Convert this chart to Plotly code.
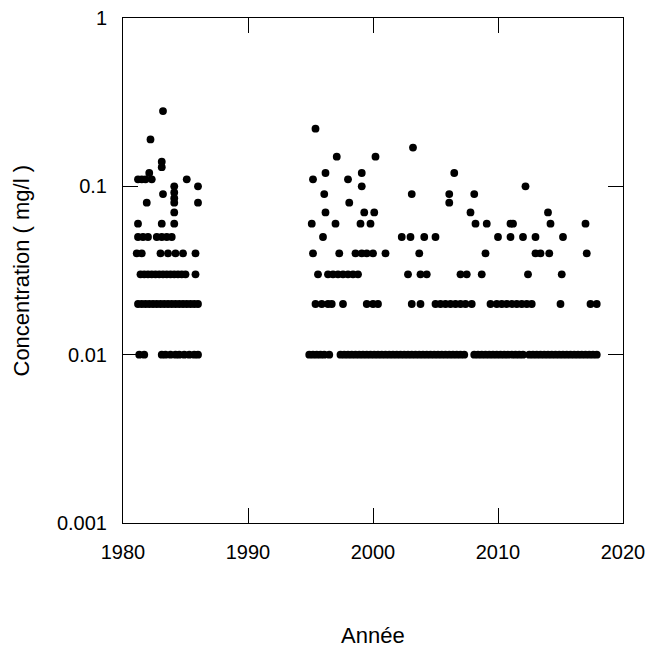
import plotly.graph_objects as go

# Years observed at each concentration level (mg/l)
annees_0_01 = [1981.3, 1981.7, 1983.1, 1983.4, 1983.8, 1984.2, 1984.5, 1984.9, 1985.3, 1985.7, 1986.0,
               1994.9, 1995.2, 1995.5, 1995.8, 1996.1, 1996.5,
               1997.4, 1997.7, 1998.0, 1998.3, 1998.6, 1998.9, 1999.2, 1999.5, 1999.8, 2000.1, 2000.4,
               2000.7, 2001.0, 2001.3, 2001.6, 2001.9, 2002.2, 2002.5, 2002.8, 2003.1, 2003.4, 2003.7,
               2004.0, 2004.3, 2004.6, 2004.9, 2005.2, 2005.5, 2005.8, 2006.1, 2006.4, 2006.7, 2007.0,
               2007.3, 2008.1, 2008.4, 2008.7, 2009.0, 2009.3, 2009.6, 2009.9, 2010.2, 2010.5, 2010.8,
               2011.1, 2011.4, 2011.7, 2012.0, 2012.5, 2012.8, 2013.1, 2013.4, 2013.7, 2014.0, 2014.3,
               2014.6, 2014.9, 2015.2, 2015.5, 2015.8, 2016.1, 2016.4, 2016.7, 2017.0, 2017.3, 2017.6,
               2017.9]
annees_0_02 = [1981.2, 1981.5, 1981.8, 1982.1, 1982.4, 1982.7, 1983.0, 1983.3, 1983.6, 1983.9,
               1984.2, 1984.5, 1984.8, 1985.1, 1985.4, 1985.7, 1986.0,
               1995.4, 1995.9, 1996.4, 1996.7, 1997.6, 1999.5, 2000.0, 2000.4, 2003.1, 2003.8,
               2005.0, 2005.4, 2005.8, 2006.2, 2006.6, 2007.0, 2007.4, 2007.9, 2009.4, 2009.9,
               2010.3, 2010.7, 2011.1, 2011.5, 2011.9, 2012.3, 2012.7, 2015.0, 2017.4, 2017.9]
annees_0_03 = [1981.4, 1981.7, 1982.0, 1982.3, 1982.6, 1982.9, 1983.2, 1983.5, 1983.8, 1984.1,
               1984.4, 1984.7, 1985.0, 1985.8,
               1995.6, 1996.4, 1996.8, 1997.2, 1997.6, 1998.0, 1998.4, 1998.8, 2002.8, 2003.8,
               2004.3, 2007.0, 2007.5, 2008.7, 2012.4, 2015.1]
annees_0_04 = [1981.1, 1981.5, 1983.0, 1983.6, 1984.2, 1984.8, 1985.8,
               1995.2, 1997.3, 1998.6, 1999.1, 1999.5, 2000.0, 2001.0, 2003.7, 2009.0,
               2013.0, 2013.4, 2014.1, 2017.1]
annees_0_05 = [1981.2, 1981.6, 1982.0, 1982.7, 1983.1, 1983.5, 1983.9,
               1996.0, 2002.3, 2003.0, 2004.1, 2005.0, 2010.0, 2011.0, 2012.0, 2013.0, 2015.2]
annees_0_06 = [1981.2, 1983.1, 1984.1,
               1995.1, 1997.0, 1999.0, 1999.8, 2008.2, 2009.1, 2011.0, 2011.2, 2014.2, 2017.0]
annees_0_07 = [1984.1, 1996.2, 1999.3, 2000.1, 2007.8, 2014.0]
annees_0_08 = [1981.9, 1984.1, 1986.0, 1998.1, 2006.1]

# Other individual measurements
annees_autres = [1984.1, 1984.1, 1983.2, 1996.1, 2003.1, 2006.1, 2008.1,
                 1984.1, 1986.0, 1999.1, 2012.2,
                 1981.2, 1981.5, 1981.8, 1982.3, 1985.1, 1995.2, 1998.0,
                 1982.1, 1996.2, 1999.1, 2006.5,
                 1983.1, 1983.1, 1997.1, 2000.2, 2003.2, 1982.2, 1995.4, 1983.2]
conc_autres = [0.085, 0.092, 0.09, 0.09, 0.09, 0.09, 0.09,
               0.1, 0.1, 0.1, 0.1,
               0.11, 0.11, 0.11, 0.11, 0.11, 0.11, 0.11,
               0.12, 0.12, 0.12, 0.12,
               0.13, 0.14, 0.15, 0.15, 0.17, 0.19, 0.22, 0.28]

niveaux = [(0.01, annees_0_01), (0.02, annees_0_02), (0.03, annees_0_03), (0.04, annees_0_04),
           (0.05, annees_0_05), (0.06, annees_0_06), (0.07, annees_0_07), (0.08, annees_0_08)]

x_vals, y_vals = [], []
for c, ans in niveaux:
    x_vals += ans
    y_vals += [c] * len(ans)
x_vals += annees_autres
y_vals += conc_autres

x_ticks = [1980, 1990, 2000, 2010, 2020]
y_ticks = [0.001, 0.01, 0.1, 1]
y_ticktext = ["0.001", "0.01", "0.1", "1"]

FONT = "Liberation Sans, Arial, sans-serif"

fig = go.Figure()
fig.add_trace(go.Scatter(
    x=x_vals, y=y_vals, mode="markers",
    marker=dict(color="black", size=7.8, line=dict(width=0)),
    showlegend=False, hoverinfo="x+y"))

axis_common = dict(showline=True, linecolor="black", linewidth=1, mirror="ticks",
                   ticks="inside", ticklen=15, tickwidth=1, tickcolor="black",
                   showgrid=False, zeroline=False,
                   tickfont=dict(family=FONT, size=20, color="black"))

fig.update_xaxes(range=[1980, 2020], tickvals=x_ticks, ticklabelstandoff=11, **axis_common)
fig.update_yaxes(type="log", range=[-3, 0], tickvals=y_ticks, ticktext=y_ticktext,
                 ticklabelstandoff=11, **axis_common)

fig.add_annotation(text="Année", xref="paper", yref="paper", x=0.5, y=-0.222,
                   xanchor="center", yanchor="middle", showarrow=False,
                   font=dict(family=FONT, size=22, color="black"))
fig.add_annotation(text="Concentration ( mg/l )", xref="paper", yref="paper", x=-0.204, y=0.5,
                   xanchor="center", yanchor="middle", textangle=-90, showarrow=False,
                   font=dict(family=FONT, size=22, color="black"))

fig.update_layout(width=650, height=647, margin=dict(l=123, r=27, t=18, b=124, autoexpand=False),
                  paper_bgcolor="white", plot_bgcolor="white")

fig.write_html("out.html")
